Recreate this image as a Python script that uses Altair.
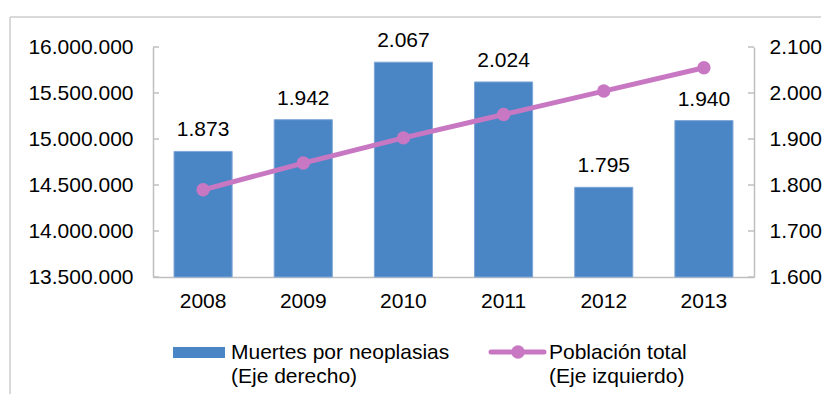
import altair as alt
import pandas as pd

years = ["2008", "2009", "2010", "2011", "2012", "2013"]
muertes = [1873, 1942, 2067, 2024, 1795, 1940]
poblacion = [14447600, 14738472, 15012228, 15266431, 15520973, 15774749]
left_ticks = [13500000, 14000000, 14500000, 15000000, 15500000, 16000000]
right_ticks = [1600, 1700, 1800, 1900, 2000, 2100]
bar_name = "Muertes por neoplasias\n(Eje derecho)"
line_name = "Población total\n(Eje izquierdo)"


def fmt(v):
    return f"{v:,}".replace(",", ".")


df = pd.DataFrame({"year": years, "muertes": muertes, "poblacion": poblacion,
                   "label": [fmt(v) for v in muertes]})
lt = pd.DataFrame({"v": left_ticks})
rt = pd.DataFrame({"v": right_ticks})
one = pd.DataFrame({"a": [0]})

FONT = "Liberation Sans"
FS = 21
BLUE = "#4A86C5"
PINK = "#C878C2"
AXIS = "#BFBFBF"
FRAME = "#D9D9D9"
W, H = 601, 230

dotexpr = "replace(format(datum.value, ',.0f'), regexp(',', 'g'), '.')"

xenc = alt.X("year:N", sort=years,
             scale=alt.Scale(paddingInner=0.42, paddingOuter=0.21),
             axis=alt.Axis(title=None, labelAngle=0, ticks=False, tickSize=0,
                           domainColor=AXIS, domainWidth=1.5, labelPadding=13,
                           labelFontSize=FS, labelColor="#000", labelFont=FONT))

rscale = alt.Scale(domain=[1600, 2100], zero=False, nice=False)
lscale = alt.Scale(domain=[13500000, 16000000], zero=False, nice=False)

raxis = alt.Axis(orient="right", title=None, values=right_ticks, labelExpr=dotexpr,
                 ticks=False, tickSize=0, grid=False, domainColor=AXIS, domainWidth=1.5,
                 labelPadding=15, labelFontSize=FS, labelColor="#000", labelFont=FONT)
laxis = alt.Axis(orient="left", title=None, values=left_ticks, labelExpr=dotexpr,
                 ticks=False, tickSize=0, grid=False, domainColor=AXIS, domainWidth=1.5,
                 labelPadding=20, labelFontSize=FS, labelColor="#000", labelFont=FONT)

bars = alt.Chart(df).mark_bar(color=BLUE, stroke="#7FA6D6", strokeWidth=1).encode(
    x=xenc,
    y=alt.Y("muertes:Q", scale=rscale, axis=raxis),
    y2=alt.datum(1600),
)
labels = alt.Chart(df).mark_text(dy=-15, baseline="alphabetic", fontSize=FS,
                                 font=FONT, color="#000").encode(
    x=alt.X("year:N", sort=years),
    y=alt.Y("muertes:Q", scale=rscale),
    text="label:N",
)
rticks = alt.Chart(rt).mark_rule(color=AXIS, strokeWidth=1.5).encode(
    y=alt.Y("v:Q", scale=rscale), x=alt.value(W - 6), x2=alt.value(W))

line = alt.Chart(df).mark_line(
    color=PINK, strokeWidth=5,
    point=alt.OverlayMarkDef(filled=True, size=180, color=PINK, opacity=1),
).encode(
    x=alt.X("year:N", sort=years),
    y=alt.Y("poblacion:Q", scale=lscale, axis=laxis),
)
lticks = alt.Chart(lt).mark_rule(color=AXIS, strokeWidth=1.5).encode(
    y=alt.Y("v:Q", scale=lscale), x=alt.value(0), x2=alt.value(6))

frame_top = alt.Chart(one).mark_rule(color=FRAME, strokeWidth=2).encode(
    x=alt.value(-143), x2=alt.value(668), y=alt.value(-30))
frame_left = alt.Chart(one).mark_rule(color=FRAME, strokeWidth=2).encode(
    x=alt.value(-143), y=alt.value(-30), y2=alt.value(347))

leg_rect = alt.Chart(one).mark_rect(color=BLUE).encode(
    x=alt.value(20), x2=alt.value(72), y=alt.value(300), y2=alt.value(311))
leg_text1 = alt.Chart(one).mark_text(align="left", baseline="alphabetic", lineBreak="\n",
                                     lineHeight=24, fontSize=FS, font=FONT,
                                     color="#000").encode(
    x=alt.value(78), y=alt.value(312), text=alt.value(bar_name))
leg_line = alt.Chart(one).mark_rule(color=PINK, strokeWidth=5, strokeCap="round").encode(
    x=alt.value(338), x2=alt.value(391), y=alt.value(305))
leg_pt = alt.Chart(one).mark_point(filled=True, size=180, color=PINK, opacity=1).encode(
    x=alt.value(365), y=alt.value(305))
leg_text2 = alt.Chart(one).mark_text(align="left", baseline="alphabetic", lineBreak="\n",
                                     lineHeight=24, fontSize=FS, font=FONT,
                                     color="#000").encode(
    x=alt.value(396), y=alt.value(312), text=alt.value(line_name))

right_group = alt.layer(bars, labels, rticks)
left_group = alt.layer(line, lticks)

chart = alt.layer(
    right_group, left_group,
    frame_top, frame_left, leg_rect, leg_text1, leg_line, leg_pt, leg_text2,
).resolve_scale(y="independent").properties(
    width=W, height=H,
    padding={"left": 1, "top": 8, "right": 0, "bottom": 0},
).configure_view(strokeWidth=0)

chart.save("out.html", embed_options={"renderer": "svg", "actions": False})
